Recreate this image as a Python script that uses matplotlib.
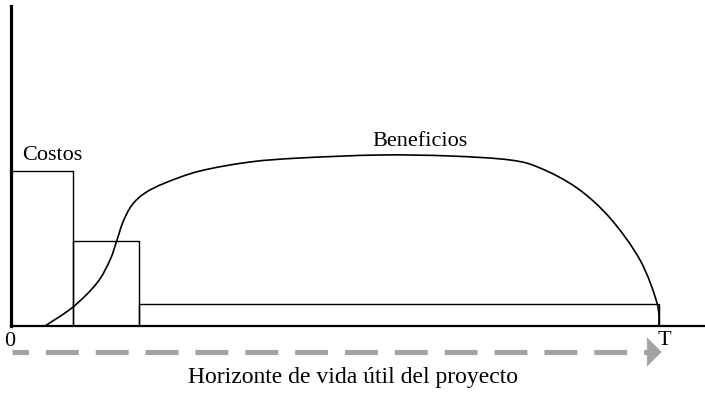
import numpy as np
import matplotlib
matplotlib.use("Agg")
import matplotlib.pyplot as plt
from matplotlib.path import Path
from matplotlib.patches import PathPatch

# periodos de costos (inicio, fin) y su altura
cost_edges = [0, 0.96, 1.98, 10]
cost_values = [4.84, 2.66, 0.69]

# curva de beneficios
ben_x = [0.525, 0.957, 1.327, 1.528, 1.636, 1.728, 1.867, 2.068, 2.377, 2.917, 3.688,
         4.460, 5.694, 6.775, 7.701, 8.164, 8.735, 9.244, 9.707, 9.969, 10.0]
ben_y = [0.0, 0.594, 1.344, 2.063, 2.688, 3.25, 3.781, 4.156, 4.469, 4.844, 5.125,
         5.25, 5.344, 5.313, 5.188, 4.938, 4.313, 3.375, 2.063, 0.719, 0.0]

tick_labels = ["0", "T"]
gray = "#a3a3a3"
plt.rcParams['font.family'] = ['Liberation Serif', 'DejaVu Serif']


def smooth_path(xs, ys):
    # trazo suave que pasa por los puntos leidos (Catmull-Rom como Bezier)
    p = np.column_stack([xs, ys])
    verts = [p[0]]
    codes = [Path.MOVETO]
    n = len(p)
    for i in range(n - 1):
        p0 = p[i - 1] if i > 0 else p[i]
        p3 = p[i + 2] if i + 2 < n else p[i + 1]
        c1 = p[i] + (p[i + 1] - p0) / 6
        c2 = p[i + 1] - (p3 - p[i]) / 6
        verts += [c1, c2, p[i + 1]]
        codes += [Path.CURVE4] * 3
    return Path(verts, codes)


fig = plt.figure(figsize=[7.05, 3.94], dpi=100)
ax = fig.add_axes([11/705, 68/394, 694/705, 320/394])
ax.set_xlim(0, 694/64.8)
ax.set_ylim(0, 10)

# costos en escalera
for i in range(len(cost_values)):
    x0, x1 = cost_edges[i], cost_edges[i+1]
    ax.plot([x0, x0, x1, x1], [0, cost_values[i], cost_values[i], 0], color="black", lw=1.0)

ax.add_patch(PathPatch(smooth_path(ben_x, ben_y), fill=False, edgecolor="black", lw=1.2))

ax.spines['top'].set_visible(False)
ax.spines['right'].set_visible(False)
ax.spines['left'].set_linewidth(2.3)
ax.spines['bottom'].set_linewidth(1.6)
ax.set_xticks([])
ax.set_yticks([])

ax.text(0.17, 5.34, "Costos", fontsize=16, va="center", ha="left")
ax.text(6.31, 5.75, "Beneficios", fontsize=16, va="center", ha="center")
ax.text(-0.02, -0.47, tick_labels[0], fontsize=16, va="center", ha="center")
ax.text(10.09, -0.44, tick_labels[1], fontsize=16, va="center", ha="center")
ax.text(5.28, -1.62, "Horizonte de vida útil del proyecto", fontsize=17, va="center", ha="center",
        clip_on=False)

# flecha discontinua del horizonte
ax.plot([0.02, 9.87], [-0.81, -0.81], color=gray, lw=3.7, clip_on=False,
        linestyle=(3.2, (6.4, 3.3)), solid_capstyle="butt", dash_capstyle="butt")
ax.annotate("", xy=(10.04, -0.81), xytext=(9.86, -0.81), annotation_clip=False,
            arrowprops=dict(arrowstyle="-|>,head_length=0.5,head_width=0.5",
                            color=gray, lw=0.5, mutation_scale=20, shrinkA=0, shrinkB=0))

fig.savefig("out.png", dpi=100)
